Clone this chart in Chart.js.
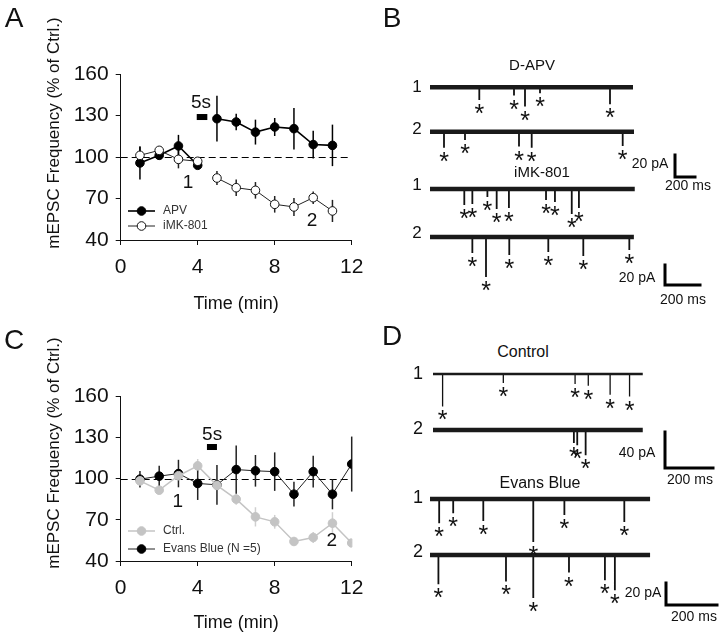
<!DOCTYPE html>
<html>
<head>
<meta charset="utf-8">
<title>mEPSC frequency</title>
<script src="https://cdn.jsdelivr.net/npm/chart.js@4.4.0/dist/chart.umd.min.js"></script>
<style>
body { margin:0; background:#fff; font-family:"Liberation Sans", Arial, sans-serif; color:#111; }
#page { position:relative; width:720px; height:635px; overflow:hidden; background:#fff; }
.box { position:absolute; }
.lbl { position:absolute; transform:translate(-50%,-50%); line-height:1; white-space:nowrap; }
</style>
</head>
<body>
<div id="page">
  <div class="box" style="left:0;top:0;width:390px;height:320px"><canvas id="chartA"></canvas></div>
  <div class="box" style="left:0;top:320px;width:390px;height:315px"><canvas id="chartC"></canvas></div>
  <div class="box" id="boxB1"><canvas id="traceB1"></canvas></div>
  <div class="box" id="boxB2"><canvas id="traceB2"></canvas></div>
  <div class="box" id="boxD1"><canvas id="traceD1"></canvas></div>
  <div class="box" id="boxD2"><canvas id="traceD2"></canvas></div>

  <div class="lbl" style="left:14px;top:18px;font-size:28px">A</div>
  <div class="lbl" style="left:392px;top:18px;font-size:28px">B</div>
  <div class="lbl" style="left:14px;top:340px;font-size:28px">C</div>
  <div class="lbl" style="left:392px;top:336px;font-size:28px">D</div>

  <div class="lbl" style="left:532px;top:64px;font-size:15px">D-APV</div>
  <div class="lbl" style="left:417px;top:86px;font-size:17px">1</div>
  <div class="lbl" style="left:417px;top:128px;font-size:17px">2</div>
  <div class="lbl" style="left:542px;top:171px;font-size:15px">iMK-801</div>
  <div class="lbl" style="left:417px;top:184px;font-size:17px">1</div>
  <div class="lbl" style="left:417px;top:232px;font-size:17px">2</div>
  <div class="lbl" style="left:650px;top:163px;font-size:14px">20 pA</div>
  <div class="lbl" style="left:688px;top:185px;font-size:14px">200 ms</div>
  <div class="lbl" style="left:637px;top:277px;font-size:14px">20 pA</div>
  <div class="lbl" style="left:683px;top:299px;font-size:14px">200 ms</div>

  <div class="lbl" style="left:523px;top:352px;font-size:16px">Control</div>
  <div class="lbl" style="left:418px;top:373px;font-size:18px">1</div>
  <div class="lbl" style="left:418px;top:428px;font-size:18px">2</div>
  <div class="lbl" style="left:540px;top:483px;font-size:16px">Evans Blue</div>
  <div class="lbl" style="left:418px;top:497px;font-size:18px">1</div>
  <div class="lbl" style="left:418px;top:551px;font-size:18px">2</div>
  <div class="lbl" style="left:637px;top:452px;font-size:14px">40 pA</div>
  <div class="lbl" style="left:690px;top:479px;font-size:14px">200 ms</div>
  <div class="lbl" style="left:643px;top:592px;font-size:14px">20 pA</div>
  <div class="lbl" style="left:694px;top:616px;font-size:14px">200 ms</div>
</div>
<script>
// ---- panel A: frequency vs time (% of control), mean +/- SEM
var timeA = [1, 2, 3, 4, 5, 6, 7, 8, 9, 10, 11];
var apvMean = [95.7, 101.2, 108, 94, 127.7, 125.3, 118, 121.7, 120.5, 109, 108.4];
var apvSem = [12, 2, 8, 2, 16.5, 6, 9, 6.5, 15, 10, 15];
var mk801Mean = [101.2, 104.8, 98.3, 96.9, 84.8, 77.8, 75.9, 65.8, 63.9, 70.6, 61];
var mk801Sem = [6, 2, 6.5, 2, 5, 6, 6, 6, 6.5, 4.5, 8];
var gapA = 4.5;          // wash-in break, no line across it
var stimA = [3.95, 4.5]; // 5 s stimulus, min

// ---- panel C
var timeC = [1, 2, 3, 4, 5, 6, 7, 8, 9, 10, 11, 12];
var ctrlMean = [98.3, 91.5, 102, 109.2, 95, 85, 72.1, 68.5, 54.2, 57.1, 67.5, 53.1];
var ctrlSem = [3, 3, 3, 5, 3, 4, 7, 5, 3, 4, 8, 3];
var evansMean = [99.5, 101.7, 103.6, 96.4, 95.4, 106.5, 105.6, 105, 88.6, 105, 88.6, 110.5];
var evansSem = [6, 7.5, 10, 12, 14.5, 17.5, 11.5, 14, 9, 11.5, 11, 20];
var stimC = [4.48, 5.0];

// ---- example sweeps: event time (ms) and amplitude (pA)
var apv1Ms = [493, 840, 950, 1100, 1800];
var apv1PA = [11.5, 7.5, 17.5, 5.5, 15.5];
var apv2Ms = [140, 350, 890, 1017, 1927];
var apv2PA = [14.5, 7.5, 13.5, 14.5, 13];
var mk1Ms = [196, 242, 328, 381, 451, 663, 714, 810, 851];
var mk1PA = [16, 15, 8, 20, 19, 11, 13, 25, 19];
var mk2Ms = [242, 320, 453, 676, 876, 1139];
var mk2PA = [16, 40, 18, 15, 19, 13];
var con1Ms = [40, 293, 592, 647, 738, 819];
var con1PA = [36, 10, 11, 13, 23, 25];
var con2Ms = [587, 601, 636];
var con2PA = [14.5, 17, 28];
var eb1Ms = [36, 91, 209, 405, 527, 762];
var eb1PA = [22, 13, 20, 39, 14.5, 21];
var eb2Ms = [33, 298, 405, 545, 686, 725];
var eb2PA = [26.5, 24, 39, 16, 23, 32];

var FONT = '"Liberation Sans", Arial, sans-serif';

function points(times, means, sems) {
  var out = [];
  for (var i = 0; i < times.length; i++) out.push({x: times[i], y: means[i], e: sems[i]});
  return out;
}
function withGap(pts, gx) {
  var out = [];
  pts.forEach(function(p, i) {
    if (i > 0 && pts[i - 1].x < gx && p.x > gx) out.push({x: gx, y: null});
    out.push(p);
  });
  return out;
}

var panelExtras = {
  id: 'panelExtras',
  beforeDatasetsDraw: function(chart, args, o) {
    var ctx = chart.ctx, xs = chart.scales.x, ys = chart.scales.y, ca = chart.chartArea;
    ctx.save();
    // reference line at 100 %
    var ry = Math.round(ys.getPixelForValue(o.refLine)) + 0.5;
    ctx.strokeStyle = '#000'; ctx.lineWidth = 1; ctx.setLineDash([7, 4]);
    ctx.beginPath();
    ctx.moveTo(ca.left, ry);
    ctx.lineTo(ca.right - 2, ry);
    ctx.stroke();
    ctx.setLineDash([]);
    // error bars
    chart.data.datasets.forEach(function(ds) {
      ctx.strokeStyle = ds.errColor; ctx.lineWidth = 1.5;
      ds.data.forEach(function(p) {
        if (p.y == null) return;
        var x = xs.getPixelForValue(p.x);
        ctx.beginPath();
        ctx.moveTo(x, ys.getPixelForValue(p.y + p.e));
        ctx.lineTo(x, ys.getPixelForValue(p.y - p.e));
        ctx.stroke();
      });
    });
    ctx.restore();
  },
  afterDatasetsDraw: function(chart, args, o) {
    var ctx = chart.ctx, xs = chart.scales.x, ys = chart.scales.y;
    ctx.save();
    // stimulus bar
    ctx.fillStyle = '#000';
    var sx0 = xs.getPixelForValue(o.stim[0]), sx1 = xs.getPixelForValue(o.stim[1]);
    var sy = ys.getPixelForValue(o.stimY);
    ctx.fillRect(sx0, sy - 3, sx1 - sx0, 6);
    // text notes
    ctx.fillStyle = '#111'; ctx.textAlign = 'center'; ctx.textBaseline = 'middle';
    o.notes.forEach(function(n) {
      ctx.font = n.size + 'px ' + FONT;
      ctx.fillText(n.text, xs.getPixelForValue(n.x), ys.getPixelForValue(n.y));
    });
    // legend
    var L = o.legend;
    L.items.forEach(function(it) {
      var ds = chart.data.datasets[it.ds];
      ctx.strokeStyle = ds.borderColor; ctx.lineWidth = ds.borderWidth;
      ctx.beginPath(); ctx.moveTo(L.x0, it.y); ctx.lineTo(L.x1, it.y); ctx.stroke();
      ctx.beginPath(); ctx.arc((L.x0 + L.x1) / 2, it.y, ds.pointRadius, 0, Math.PI * 2);
      ctx.fillStyle = ds.pointBackgroundColor; ctx.fill();
      ctx.lineWidth = 1; ctx.strokeStyle = ds.pointBorderColor; ctx.stroke();
      ctx.fillStyle = '#333'; ctx.font = '12px ' + FONT; ctx.textAlign = 'left';
      ctx.fillText(ds.label, L.tx, it.y);
    });
    // y axis title
    ctx.translate(o.yTitle.x, o.yTitle.y); ctx.rotate(-Math.PI / 2);
    ctx.fillStyle = '#111'; ctx.font = '17px ' + FONT; ctx.textAlign = 'center';
    ctx.fillText('mEPSC Frequency (% of Ctrl.)', 0, 0);
    ctx.restore();
  }
};

function panelChart(id, datasets, lay, extras) {
  return new Chart(document.getElementById(id), {
    type: 'line',
    data: {datasets: datasets},
    options: {
      animation: false, responsive: true, maintainAspectRatio: false,
      layout: {padding: {left: 0, top: lay.top, right: lay.right, bottom: 0}},
      plugins: {legend: {display: false}, tooltip: {enabled: false}, panelExtras: extras},
      scales: {
        x: {type: 'linear', min: 0, max: 12,
            afterFit: function(s) { s.height = lay.xAxisH; },
            ticks: {stepSize: 4, maxRotation: 0, font: {family: FONT, size: 21}, color: '#111', padding: 10},
            grid: {drawOnChartArea: false, tickLength: 5, color: '#111'},
            border: {color: '#111', width: 1},
            title: {display: true, text: 'Time (min)', font: {family: FONT, size: 18, weight: 'normal'}, color: '#111',
                    padding: {top: 0, bottom: lay.titlePad}}},
        y: {type: 'linear', min: 40, max: 160,
            afterFit: function(s) { s.width = lay.yAxisW; },
            ticks: {stepSize: 30, font: {family: FONT, size: 21}, color: '#111', padding: 7},
            grid: {drawOnChartArea: false, tickLength: 5, color: '#111'},
            border: {color: '#111', width: 1}}
      }
    },
    plugins: [panelExtras]
  });
}

panelChart('chartA', [
  {label: 'iMK-801', data: withGap(points(timeA, mk801Mean, mk801Sem), gapA), borderColor: '#222', borderWidth: 1,
   pointRadius: 4.3, pointBackgroundColor: '#fff', pointBorderColor: '#111', pointBorderWidth: 1, errColor: '#222', tension: 0},
  {label: 'APV', data: withGap(points(timeA, apvMean, apvSem), gapA), borderColor: '#000', borderWidth: 1.6,
   pointRadius: 4.3, pointBackgroundColor: '#000', pointBorderColor: '#000', pointBorderWidth: 1, errColor: '#000', tension: 0}
], {top: 74, right: 38.3, xAxisH: 80, yAxisW: 120.7, titlePad: 5}, {
  refLine: 100, stim: stimA, stimY: 128.9,
  notes: [{text: '5s', x: 4.17, y: 139, size: 19}, {text: '1', x: 3.5, y: 81.2, size: 19}, {text: '2', x: 9.94, y: 53.7, size: 19}],
  legend: {x0: 128, x1: 155, tx: 163, items: [{ds: 1, y: 211}, {ds: 0, y: 226}]},
  yTitle: {x: 54, y: 133}
});

panelChart('chartC', [
  {label: 'Ctrl.', data: points(timeC, ctrlMean, ctrlSem), borderColor: '#c4c4c4', borderWidth: 1.5,
   pointRadius: 4.3, pointBackgroundColor: '#c4c4c4', pointBorderColor: '#c4c4c4', pointBorderWidth: 1, errColor: '#cfcfcf', tension: 0},
  {label: 'Evans Blue (N =5)', data: points(timeC, evansMean, evansSem), borderColor: '#222', borderWidth: 1,
   pointRadius: 4.3, pointBackgroundColor: '#000', pointBorderColor: '#000', pointBorderWidth: 1, errColor: '#222', tension: 0}
], {top: 76, right: 38.3, xAxisH: 74, yAxisW: 120.7, titlePad: 1}, {
  refLine: 100, stim: stimC, stimY: 122.9,
  notes: [{text: '5s', x: 4.75, y: 131.6, size: 19}, {text: '1', x: 2.96, y: 82.9, size: 19}, {text: '2', x: 10.96, y: 54.5, size: 19}],
  legend: {x0: 128, x1: 155, tx: 163, items: [{ds: 0, y: 211}, {ds: 1, y: 229}]},
  yTitle: {x: 54, y: 133}
});

// ---- current traces
var traceExtras = {
  id: 'traceExtras',
  afterDatasetsDraw: function(chart, args, o) {
    var ctx = chart.ctx, xs = chart.scales.x, ys = chart.scales.y;
    ctx.save();
    ctx.fillStyle = '#111'; ctx.font = '25px ' + FONT; ctx.textAlign = 'center'; ctx.textBaseline = 'alphabetic';
    o.sweeps.forEach(function(sw) {
      sw.ms.forEach(function(t, i) {
        ctx.fillText('*', xs.getPixelForValue(t), ys.getPixelForValue(sw.off - sw.pa[i]) + 22);
      });
    });
    // scale bar: 20/40 pA and 200 ms
    var hLen = xs.getPixelForValue(200) - xs.getPixelForValue(0);
    var vLen = ys.getPixelForValue(0) - ys.getPixelForValue(o.barPA);
    ctx.strokeStyle = '#000'; ctx.lineWidth = 3; ctx.lineCap = 'square';
    ctx.beginPath();
    ctx.moveTo(o.barX, o.barY - vLen); ctx.lineTo(o.barX, o.barY); ctx.lineTo(o.barX + hLen, o.barY);
    ctx.stroke();
    ctx.restore();
  }
};

function traceChart(id, g) {
  var box = document.getElementById(id).parentNode;
  box.style.left = g.left + 'px'; box.style.top = g.top + 'px';
  box.style.width = g.width + 'px'; box.style.height = g.height + 'px';
  var xmin = -(g.t0x - g.left) / g.pxPerMs;
  var ymax = (g.baseY[0] - g.top) / g.pxPerPA;
  var datasets = [];
  g.sweeps.forEach(function(sw, k) {
    sw.off = -(g.baseY[k] - g.baseY[0]) / g.pxPerPA;
    datasets.push({data: [{x: 0, y: sw.off}, {x: sw.dur, y: sw.off}], borderColor: '#1a1a1a', borderWidth: sw.band || 4.5});
    var pts = [];
    sw.ms.forEach(function(t, i) {
      pts.push({x: t, y: sw.off}, {x: t, y: sw.off - sw.pa[i]}, {x: t, y: null});
    });
    datasets.push({data: pts, borderColor: '#111', borderWidth: sw.spike || 1.8});
  });
  return new Chart(document.getElementById(id), {
    type: 'line',
    data: {datasets: datasets},
    options: {
      animation: false, responsive: true, maintainAspectRatio: false,
      layout: {padding: 0},
      elements: {point: {radius: 0}, line: {tension: 0, borderCapStyle: 'butt'}},
      plugins: {legend: {display: false}, tooltip: {enabled: false},
                traceExtras: {sweeps: g.sweeps, barPA: g.barPA, barX: g.bar[0] - g.left, barY: g.bar[1] - g.top}},
      scales: {
        x: {type: 'linear', display: false, min: xmin, max: xmin + g.width / g.pxPerMs},
        y: {type: 'linear', display: false, max: ymax, min: ymax - g.height / g.pxPerPA}
      }
    },
    plugins: [traceExtras]
  });
}

traceChart('traceB1', {left: 400, top: 70, width: 320, height: 115, t0x: 430, pxPerMs: 0.1, pxPerPA: 1.1,
  baseY: [87.3, 131.7], bar: [675, 177], barPA: 20,
  sweeps: [{ms: apv1Ms, pa: apv1PA, dur: 2030}, {ms: apv2Ms, pa: apv2PA, dur: 2040}]});
traceChart('traceB2', {left: 400, top: 175, width: 320, height: 135, t0x: 430, pxPerMs: 0.175, pxPerPA: 1.0,
  baseY: [189, 237], bar: [665, 285], barPA: 20,
  sweeps: [{ms: mk1Ms, pa: mk1PA, dur: 1170}, {ms: mk2Ms, pa: mk2PA, dur: 1165}]});
traceChart('traceD1', {left: 400, top: 360, width: 320, height: 125, t0x: 433, pxPerMs: 0.24, pxPerPA: 0.9,
  baseY: [374, 430], bar: [665, 468], barPA: 40,
  sweeps: [{ms: con1Ms, pa: con1PA, dur: 874, band: 2.6, spike: 1.3}, {ms: con2Ms, pa: con2PA, dur: 874}]});
traceChart('traceD2', {left: 400, top: 485, width: 320, height: 150, t0x: 430, pxPerMs: 0.255, pxPerPA: 1.1,
  baseY: [499, 555], bar: [666, 605], barPA: 20,
  sweeps: [{ms: eb1Ms, pa: eb1PA, dur: 863}, {ms: eb2Ms, pa: eb2PA, dur: 863}]});
</script>
</body>
</html>
